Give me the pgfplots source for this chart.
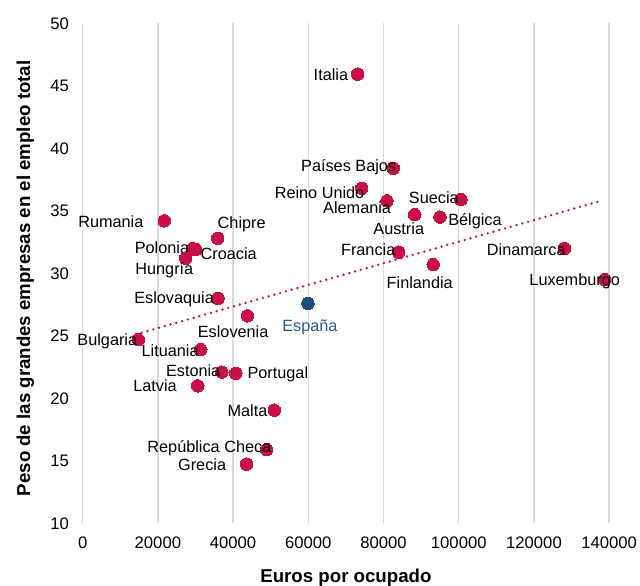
\documentclass[border=0pt]{standalone}
\usepackage{fontspec}
\setmainfont{Liberation Sans}
\usepackage{pgfplots}
\usepackage{pgfplotstable}
\pgfplotsset{compat=1.18}

\definecolor{carmin}{RGB}{200,16,70}
\definecolor{azulesp}{RGB}{31,78,121}
\definecolor{azullab}{RGB}{47,85,151}
\definecolor{rejilla}{RGB}{217,217,217}

% x, y, nombre, desplazamiento de la etiqueta (pt)
\pgfplotstableread[col sep=comma]{
x,y,name,dx,dy
21700,34.2,Rumania,-40.1,-0.75
35900,32.8,Chipre,18,10.7
29200,31.97,Polonia,-22.9,1.05
30100,31.9,Croacia,24.6,-3
27400,31.2,Hungría,-16.05,-8.8
36000,28.0,Eslovaquia,-33,-0.5
43800,26.6,Eslovenia,-10.7,-12
14800,24.7,Bulgaria,-23.25,-1.3
31400,23.9,Lituania,-23,-1.05
37000,22.1,Estonia,-21.5,1.3
40700,22.0,Portugal,31.6,-0.75
30600,21.0,Latvia,-32,0
50960,19.06,Malta,-20.1,-0.5
48900,15.9,República Checa,-42.9,0.75
43600,14.74,Grecia,-33.4,-0.75
73100,45.94,Italia,-20,-0.75
82600,38.4,Países Bajos,-33.5,1.2
74200,36.8,Reino Unido,-31.65,-3
80900,35.8,Alemania,-22.35,-5.25
100600,35.9,Suecia,-20.4,1.2
88300,34.7,Austria,-12,-10.95
95000,34.5,Bélgica,26.25,-2.8
84000,31.7,Francia,-22.8,1.5
93200,30.7,Finlandia,-10.1,-13.5
128100,32.0,Dinamarca,-28.6,-0.75
138800,29.5,Luxemburgo,-22.5,-1.05
}\paises

\begin{document}
\begin{tikzpicture}
  \begin{axis}[
    at={(0,0)}, anchor=south west,
    scale only axis, width=394.9pt, height=375pt,
    xmin=0, xmax=140000, ymin=10, ymax=50,
    xtick={0,20000,40000,60000,80000,100000,120000,140000},
    xticklabels={0,20000,40000,60000,80000,100000,120000,140000},
    scaled x ticks=false,
    ytick={10,15,20,25,30,35,40,45,50},
    yticklabels={10,15,20,25,30,35,40,45,50},
    xmajorgrids,
    major grid style={rejilla, line width=1.1pt},
    axis line style={draw=none},
    major tick style={draw=none},
    ticklabel style={font=\fontsize{12.5}{15}\selectfont},
    xticklabel style={yshift=-6.4pt},
    yticklabel style={xshift=-6.7pt},
    xlabel={Euros por ocupado},
    ylabel={Peso de las grandes empresas en el empleo total},
    label style={font=\fontsize{14}{16}\selectfont\bfseries},
    xlabel style={at={(axis description cs:0.5,-0.1188)}, anchor=base},
    ylabel style={at={(axis description cs:-0.100,0.49)}, anchor=base},
    clip=false,
  ]
    % linea de tendencia
    \addplot[carmin, line width=2pt, line cap=round,
      dash pattern=on 0pt off 4.5pt]
      coordinates {(15700,25.25) (138300,35.84)};

    \addplot[carmin, only marks, mark=*, mark size=4.7pt,
      mark options={draw=carmin, fill=carmin, line width=0pt},
      point meta=explicit symbolic,
      nodes near coords={\pgfplotspointmeta},
      visualization depends on={\thisrow{dx}\as\labdx},
      visualization depends on={\thisrow{dy}\as\labdy},
      every node near coord/.append style={anchor=center,
        xshift=\labdx pt, yshift=\labdy pt, inner sep=0pt,
        text=black, font=\fontsize{12.2}{14}\selectfont}]
      table[x=x, y=y, meta=name] {\paises};

    % Espana
    \addplot[azulesp, only marks, mark=*, mark size=4.7pt,
      mark options={draw=azulesp, fill=azulesp, line width=0pt},
      point meta=explicit symbolic,
      nodes near coords={España},
      every node near coord/.append style={anchor=center,
        xshift=1.5pt, yshift=-18pt, inner sep=0pt,
        text=azullab, font=\fontsize{12.2}{14}\selectfont}]
      coordinates {(59900,27.6) [x]};
  \end{axis}
  \pgfresetboundingbox
  \useasboundingbox (-62pt,-46.3pt) rectangle (418pt,392.5pt);
\end{tikzpicture}
\end{document}
